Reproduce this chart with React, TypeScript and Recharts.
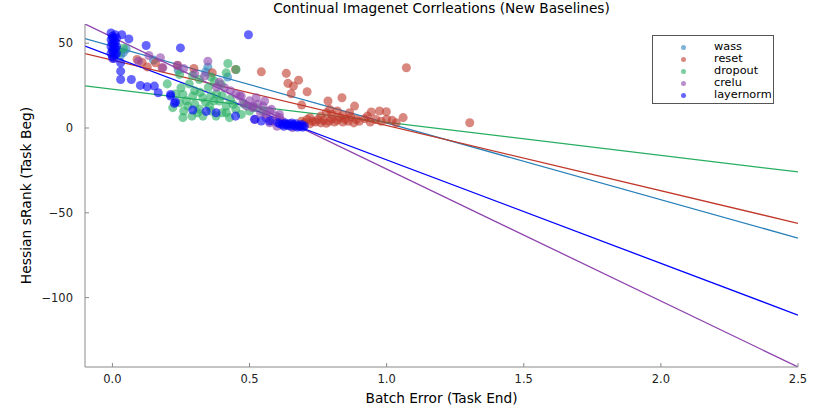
import React from "react";
import { ComposedChart, Scatter, Line, XAxis, YAxis, Label } from "recharts";

const FONT = "DejaVu Sans, sans-serif";

const wassPts: [number, number][] = [
  [0.0, 53], [0.01, 50], [0.005, 47], [0.02, 46], [0.04, 44.5], [0.05, 46.5],
  [0.03, 43], [0.348, 36], [0.34, 33], [0.24, 34], [0.42, 30], [0.15, 40],
];

const resetPts: [number, number][] = [
  [0.09, 40.4], [0.108, 38.8], [0.127, 36], [0.157, 38.4], [0.181, 35.5], [0.238, 37],
  [0.297, 35.1], [0.364, 32.5], [0.449, 34.5], [0.543, 33.1], [0.634, 32.2], [0.679, 28.2],
  [0.64, 26.3], [0.66, 24.7], [0.652, 20.2], [0.71, 21.4], [0.69, 13.5], [0.786, 15.9],
  [0.837, 17.8], [0.792, 11], [0.883, 12.9], [0.865, 9], [0.944, 9.4], [0.974, 10],
  [0.999, 9.6], [1.06, 6.1], [1.072, 35.5], [1.303, 3.1], [1.035, 3.1],
  [0.69, 4], [0.7, 3], [0.71, 5], [0.72, 2.5], [0.73, 4], [0.74, 3.5], [0.75, 5],
  [0.76, 3], [0.77, 4.5], [0.78, 2.8], [0.79, 4], [0.8, 5.5], [0.81, 3.5], [0.82, 4.5],
  [0.83, 6], [0.84, 3.5], [0.85, 5], [0.86, 4], [0.87, 6.5], [0.88, 3], [0.89, 5],
  [0.9, 4], [0.92, 5.5], [0.94, 3.5], [0.96, 5], [0.98, 4], [1.0, 5], [1.02, 4.5],
  [0.8, 8], [0.76, 7], [0.84, 7.5], [0.93, 7], [0.72, 6], [0.78, 9], [0.82, 10],
];

const dropoutPts: [number, number][] = [
  [0.421, 38], [0.451, 34.5], [0.415, 32.5], [0.245, 31.6], [0.293, 31], [0.317, 28.6],
  [0.372, 27.6], [0.397, 25.7], [0.25, 23.7], [0.257, 19.8], [0.293, 18.8], [0.33, 17.8],
  [0.36, 19], [0.39, 15.9], [0.415, 12.9], [0.245, 14.9], [0.275, 12.9], [0.317, 11],
  [0.354, 12.9], [0.415, 9], [0.257, 6.1], [0.33, 7], [0.378, 7], [0.427, 6.1], [0.47, 8],
  [0.22, 12], [0.27, 16], [0.3, 14], [0.34, 15], [0.37, 16], [0.4, 19], [0.43, 17],
  [0.44, 14], [0.3, 22], [0.35, 24], [0.28, 26], [0.38, 20], [0.31, 9], [0.36, 10],
  [0.45, 11], [0.48, 14], [0.5, 10], [0.23, 20], [0.2, 26], [0.02, 44], [0.04, 47],
  [0.36, 30], [0.32, 21], [0.26, 10], [0.4, 9], [0.29, 7], [0.52, 12], [0.55, 10],
];

const creluPts: [number, number][] = [
  [0.133, 42.7], [0.175, 41.4], [0.184, 35.5], [0.095, 39.4], [0.348, 39.4], [0.336, 30.6],
  [0.236, 36.8], [0.409, 23.7], [0.47, 18.8], [0.524, 17.8], [0.555, 15.9], [0.512, 11.9],
  [0.561, 8], [0.609, 8], [0.584, 4.1], [0.657, 0.2], [0.464, 18.8], [0.549, 12.9],
  [0.573, 10], [0.597, 7], [0.573, 3.1], [0.609, 6.1], [0.512, 12.9], [0.476, 14.9],
  [0.5, 16], [0.53, 14], [0.54, 9], [0.56, 6], [0.58, 11], [0.62, 4], [0.63, 2],
  [0.6, 1], [0.52, 5], [0.49, 13], [0.45, 20], [0.43, 22], [0.39, 27], [0.38, 24],
  [0.3, 32], [0.26, 35], [0.0, 41],
];

const layernormPts: [number, number][] = [
  [-0.005, 56], [0.01, 55], [0.0, 54], [0.005, 53], [-0.005, 52], [0.01, 51], [0.0, 50],
  [0.005, 49], [-0.005, 48], [0.01, 47], [0.0, 46], [0.005, 45], [-0.005, 44], [0.01, 43],
  [0.0, 42], [0.005, 41], [0.015, 53], [0.015, 48], [0.015, 44],
  [0.034, 55], [0.06, 52.5], [0.123, 48.6], [0.248, 47.2], [0.496, 55],
  [0.03, 38.4], [0.03, 33.5], [0.03, 28.6], [0.069, 28.6], [0.102, 25.1], [0.127, 24.3],
  [0.153, 24.7], [0.167, 20.8], [0.212, 18.8], [0.23, 15.3], [0.226, 14.5], [0.212, 19.8],
  [0.293, 10.6], [0.342, 9.8], [0.378, 9], [0.449, 7], [0.518, 5.1], [0.543, 4.1],
  [0.573, 4.1], [0.603, 3.1],
  [0.61, 2.5], [0.62, 2], [0.63, 3], [0.64, 1.5], [0.645, 2.5], [0.65, 1], [0.66, 2],
  [0.665, 1], [0.67, 2.5], [0.68, 1.5], [0.685, 0.8], [0.69, 2], [0.7, 1.2], [0.625, 1],
  [0.655, 3], [0.675, 0.5], [0.695, 0.5], [0.635, 2.2],
];

// fitted line endpoints (x = -0.1 and x = 2.5)
const lineX = [-0.1, 2.5];
const wassFit = [52.7, -64.9];
const resetFit = [43.8, -56.2];
const dropoutFit = [24.8, -25.9];
const creluFit = [61.3, -140.9];
const layernormFit = [48.3, -110.3];

const xTicks = [0, 0.5, 1, 1.5, 2, 2.5];
const yTicks = [-100, -50, 0, 50];
const xTickLabels = ["0.0", "0.5", "1.0", "1.5", "2.0", "2.5"];
const yTickLabels = ["\u2212100", "\u221250", "0", "50"];

const seriesNames = ["wass", "reset", "dropout", "crelu", "layernorm"];
const colors = ["#2980b9", "#c0392b", "#27ae60", "#8e44ad", "#0000ff"];

const toPts = (a: [number, number][]) => a.map(([x, y]) => ({ x, y }));
const toLine = (ys: number[]) => lineX.map((x, i) => ({ x, y: ys[i] }));

const scatterSets = [wassPts, resetPts, dropoutPts, creluPts, layernormPts];
const fitSets = [wassFit, resetFit, dropoutFit, creluFit, layernormFit];

export default function App() {
  return (
    <div style={{ position: "fixed", left: 0, top: 0, width: 822, height: 411, background: "#fff" }}>
      <div
        style={{
          position: "absolute",
          left: 85,
          width: 713,
          top: 0,
          textAlign: "center",
          fontFamily: FONT,
          fontSize: 13.7,
          lineHeight: "17px",
          color: "#000",
        }}
      >
        Continual Imagenet Corrleations (New Baselines)
      </div>
      <ComposedChart width={822} height={411} margin={{ top: 24, right: 24, bottom: 0, left: 0 }}>
        <XAxis
          type="number"
          dataKey="x"
          domain={[-0.1, 2.5]}
          ticks={xTicks}
          tickFormatter={(v: number) => xTickLabels[xTicks.indexOf(v)] ?? String(v)}
          allowDataOverflow
          height={44}
          tickSize={-4}
          tickMargin={12}
          axisLine={{ stroke: "#8a8a8a" }}
          tickLine={{ stroke: "#8a8a8a" }}
          tick={{ fill: "#222", fontSize: 11.5, fontFamily: FONT }}
        >
          <Label
            content={() => (
              <text x={441.5} y={398} textAnchor="middle" dominantBaseline="central" fontSize={13.7} fontFamily={FONT} fill="#000">
                Batch Error (Task End)
              </text>
            )}
          />
        </XAxis>
        <YAxis
          type="number"
          dataKey="y"
          domain={[-140.9, 61.3]}
          ticks={yTicks}
          tickFormatter={(v: number) => yTickLabels[yTicks.indexOf(v)] ?? String(v)}
          allowDataOverflow
          width={85}
          tickSize={-4}
          tickMargin={16}
          axisLine={{ stroke: "#8a8a8a" }}
          tickLine={{ stroke: "#8a8a8a" }}
          tick={{ fill: "#222", fontSize: 11.5, fontFamily: FONT }}
        >
          <Label
            content={() => (
              <text
                x={26}
                y={195.5}
                transform="rotate(-90 26 195.5)"
                textAnchor="middle"
                dominantBaseline="central"
                fontSize={13.9}
                fontFamily={FONT}
                fill="#000"
              >
                Hessian sRank (Task Beg)
              </text>
            )}
          />
        </YAxis>
        {scatterSets.map((pts, i) => (
          <Scatter
            key={"s" + i}
            name={seriesNames[i]}
            data={toPts(pts)}
            fill={colors[i]}
            fillOpacity={0.6}
            isAnimationActive={false}
          />
        ))}
        {fitSets.map((ys, i) => (
          <Line
            key={"l" + i}
            data={toLine(ys)}
            dataKey="y"
            stroke={colors[i]}
            strokeWidth={1.3}
            dot={false}
            activeDot={false}
            legendType="none"
            isAnimationActive={false}
          />
        ))}
      </ComposedChart>
      <div
        style={{
          position: "absolute",
          left: 652,
          top: 35,
          width: 122,
          height: 69,
          border: "1px solid #555",
          background: "#fff",
          fontFamily: FONT,
          fontSize: 11.3,
          color: "#000",
          paddingTop: 5,
          boxSizing: "border-box",
        }}
      >
        {seriesNames.map((n, i) => (
          <div key={n} style={{ position: "relative", height: 12, lineHeight: "12px" }}>
            <span
              style={{
                position: "absolute",
                left: 28,
                top: 3.5,
                width: 5,
                height: 5,
                borderRadius: "50%",
                background: colors[i],
                opacity: 0.6,
              }}
            />
            <span style={{ position: "absolute", left: 61 }}>{n}</span>
          </div>
        ))}
      </div>
    </div>
  );
}
